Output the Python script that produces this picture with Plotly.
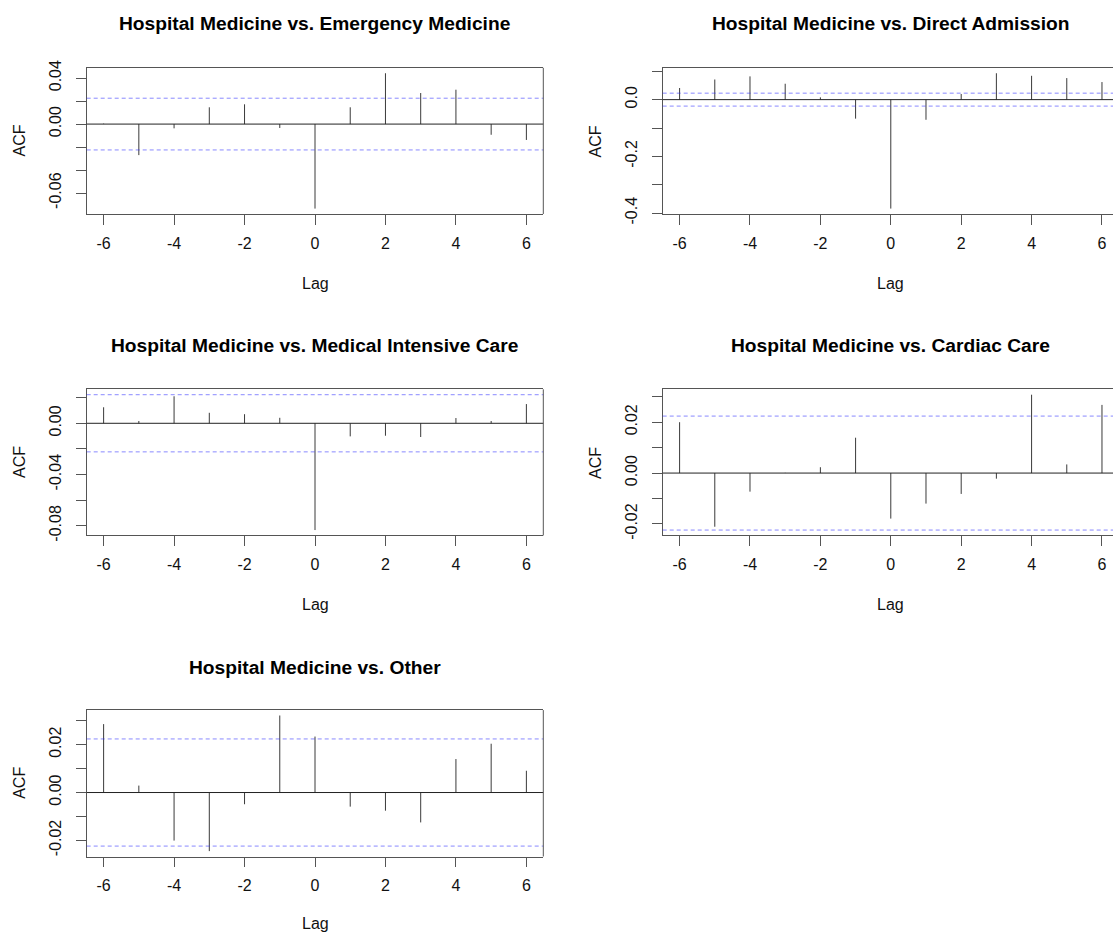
import plotly.graph_objects as go

# ---------------- data ----------------
lags = [-6, -5, -4, -3, -2, -1, 0, 1, 2, 3, 4, 5, 6]

titles = [
    "Hospital Medicine vs. Emergency Medicine",
    "Hospital Medicine vs. Direct Admission",
    "Hospital Medicine vs. Medical Intensive Care",
    "Hospital Medicine vs. Cardiac Care",
    "Hospital Medicine vs. Other",
]

acf_emergency = [0.0004, -0.0270, -0.0037, 0.0146, 0.0172, -0.0034, -0.0735,
                 0.0146, 0.0442, 0.0270, 0.0299, -0.0093, -0.0138]
acf_direct = [0.041, 0.071, 0.082, 0.056, 0.008, -0.067, -0.384,
              -0.071, 0.020, 0.093, 0.084, 0.076, 0.062]
acf_micu = [0.0125, 0.0018, 0.0211, 0.0082, 0.0071, 0.0043, -0.0833,
            -0.0102, -0.0097, -0.0107, 0.0041, 0.0018, 0.0150]
acf_cardiac = [0.0200, -0.0211, -0.0073, 0.0001, 0.0023, 0.0139, -0.0179,
               -0.0120, -0.0082, -0.0022, 0.0308, 0.0034, 0.0268]
acf_other = [0.0286, 0.0029, -0.0201, -0.0245, -0.0049, 0.0322, 0.0234,
             -0.0059, -0.0076, -0.0125, 0.0140, 0.0204, 0.0091]

series = [acf_emergency, acf_direct, acf_micu, acf_cardiac, acf_other]
conf_limits = [0.0225, 0.0228, 0.0223, 0.0224, 0.0224]

y_tick_vals = [
    [-0.06, -0.04, -0.02, 0.00, 0.02, 0.04],
    [-0.4, -0.3, -0.2, -0.1, 0.0, 0.1],
    [-0.08, -0.06, -0.04, -0.02, 0.00, 0.02],
    [-0.02, -0.01, 0.00, 0.01, 0.02, 0.03],
    [-0.02, -0.01, 0.00, 0.01, 0.02, 0.03],
]
y_tick_text = [
    ["-0.06", "", "", "0.00", "", "0.04"],
    ["-0.4", "", "-0.2", "", "0.0", ""],
    ["-0.08", "", "-0.04", "", "0.00", ""],
    ["-0.02", "", "0.00", "", "0.02", ""],
    ["-0.02", "", "0.00", "", "0.02", ""],
]
x_tick_vals = [-6, -4, -2, 0, 2, 4, 6]

# ---------------- layout geometry (pixels) ----------------
W, H = 1113, 946
# (box_left, box_right, box_top, box_bottom, x_max, acf_x, title_y, lag_y)
geom = [
    (86.7, 543.3, 61, 210, 6.48, 19.5, 16, 281),
    (662.7, 1113, 61, 210, 6.313, 595.5, 16, 281),
    (86.7, 543.3, 388.7, 537.7, 6.48, 19.5, 344, 608.5),
    (662.7, 1113, 388.7, 537.7, 6.313, 595.5, 344, 608.5),
    (86.7, 543.3, 715.7, 865, 6.48, 19.5, 672, 933),
]

font_family = "Liberation Sans, Arial, Helvetica, sans-serif"
fig = go.Figure()
annotations = []
shapes = []
layout_axes = {}

for i, vals in enumerate(series):
    n = i + 1
    xa = "x" if n == 1 else f"x{n}"
    ya = "y" if n == 1 else f"y{n}"
    bl, br, bt, bb, xmax, acf_x, title_y, lag_y = geom[i]
    clim = conf_limits[i]

    # vertical ACF spikes
    xs, ys = [], []
    for lag, v in zip(lags, vals):
        xs += [lag, lag, None]
        ys += [0, v, None]
    fig.add_trace(go.Scatter(x=xs, y=ys, mode="lines",
                             line=dict(color="#3a3a3a", width=1),
                             xaxis=xa, yaxis=ya, showlegend=False,
                             hoverinfo="skip"))

    # R-style y limits: range of data and confidence limits, expanded 4%
    lo = min(min(vals), -clim)
    hi = max(max(vals), clim)
    pad = (hi - lo) * 0.04

    xkey = "xaxis" if n == 1 else f"xaxis{n}"
    ykey = "yaxis" if n == 1 else f"yaxis{n}"
    layout_axes[xkey] = dict(
        domain=[bl / W, br / W], anchor=ya,
        range=[-6.48, xmax], tickvals=x_tick_vals,
        ticktext=[str(t) for t in x_tick_vals],
        ticks="outside", ticklen=9.6, tickcolor="#555", tickwidth=1,
        ticklabelstandoff=5,
        showline=True, linecolor="#555", linewidth=1, mirror=True,
        showgrid=False, zeroline=False,
        tickfont=dict(size=16, color="#111", family=font_family),
    )
    layout_axes[ykey] = dict(
        domain=[1 - bb / H, 1 - bt / H], anchor=xa,
        range=[lo - pad, hi + pad], tickvals=y_tick_vals[i],
        ticktext=y_tick_text[i], tickangle=-90,
        ticks="outside", ticklen=9.6, tickcolor="#555", tickwidth=1,
        ticklabelstandoff=9,
        showline=True, linecolor="#555", linewidth=1, mirror=False,
        showgrid=False, zeroline=False,
        tickfont=dict(size=16, color="#111", family=font_family),
    )

    # zero line and confidence limits
    shapes.append(dict(type="line", xref=f"{xa} domain", yref=ya,
                       x0=0, x1=1, y0=0, y1=0,
                       line=dict(color="#222", width=1)))
    for c in (clim, -clim):
        shapes.append(dict(type="line", xref=f"{xa} domain", yref=ya,
                           x0=0, x1=1, y0=c, y1=c,
                           line=dict(color="rgba(40,40,255,0.55)", width=1,
                                     dash="4px,3px")))
    # right side of the box where it lies inside the page
    if br < W:
        shapes.append(dict(type="line", xref=f"{xa} domain", yref=f"{ya} domain",
                           x0=1, x1=1, y0=0, y1=1,
                           line=dict(color="#555", width=1)))

    annotations.append(dict(text=f"<b>{titles[i]}</b>", xref=xa, x=0,
                            yref="paper", y=1 - title_y / H,
                            showarrow=False, xanchor="center", yanchor="middle",
                            font=dict(size=19.2, color="#000", family=font_family)))
    annotations.append(dict(text="Lag", xref=xa, x=0,
                            yref="paper", y=1 - lag_y / H,
                            showarrow=False, xanchor="center", yanchor="middle",
                            font=dict(size=16, color="#111", family=font_family)))
    annotations.append(dict(text="ACF", xref="paper", x=acf_x / W,
                            yref="paper", y=1 - (bt + bb) / 2 / H,
                            showarrow=False, xanchor="center", yanchor="middle",
                            textangle=-90,
                            font=dict(size=16, color="#111", family=font_family)))

fig.update_layout(
    width=W, height=H,
    margin=dict(l=0, r=0, t=0, b=0),
    paper_bgcolor="white", plot_bgcolor="white",
    showlegend=False,
    annotations=annotations, shapes=shapes,
    font=dict(family=font_family),
    **layout_axes,
)

page_fix = (
    "var de=document.documentElement, b=document.body;"
    "[de,b].forEach(function(e){e.style.margin='0';e.style.padding='0';"
    "e.style.overflow='hidden';});"
)

fig.write_html("out.html", config={"displayModeBar": False},
               post_script=page_fix)
